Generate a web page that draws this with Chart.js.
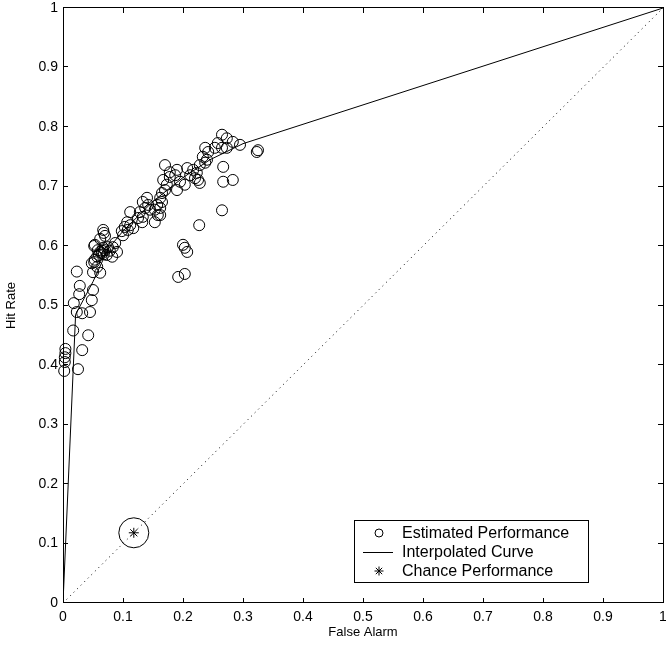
<!DOCTYPE html>
<html>
<head>
<meta charset="utf-8">
<title>ROC - Hit Rate vs False Alarm</title>
<script src="https://cdn.jsdelivr.net/npm/chart.js@4/dist/chart.umd.min.js"></script>
<style>
  body { margin: 0; background: #fff; }
  #wrap { width: 666px; height: 647px; }
</style>
</head>
<body>
<div id="wrap"><canvas id="rocChart" width="666" height="647"></canvas></div>
<script>
// Estimated performance (false alarm, hit rate)
const falseAlarm = [
  0.002, 0.003, 0.003, 0.004, 0.004,
  0.025, 0.032, 0.042, 0.017,
  0.023, 0.032, 0.045, 0.018, 0.048,
  0.027, 0.050, 0.028, 0.023,
  0.050, 0.062, 0.057, 0.052, 0.048, 0.053,
  0.052, 0.068, 0.062, 0.067, 0.070,
  0.053, 0.058, 0.067, 0.075, 0.083, 0.090, 0.065, 0.073, 0.057, 0.082, 0.062, 0.065, 0.068, 0.060, 0.070, 0.087, 0.078,
  0.100, 0.103, 0.107, 0.112, 0.117, 0.108, 0.112, 0.098,
  0.128, 0.133, 0.125, 0.132, 0.153, 0.162,
  0.140, 0.133, 0.142, 0.137, 0.145,
  0.162, 0.165, 0.157, 0.162, 0.153, 0.158,
  0.167, 0.173, 0.170, 0.165, 0.170,
  0.190, 0.178, 0.187, 0.178,
  0.207, 0.217, 0.223, 0.212, 0.220, 0.225, 0.228,
  0.195, 0.203, 0.190,
  0.237, 0.242, 0.233, 0.240, 0.237, 0.228,
  0.265, 0.273, 0.283, 0.295, 0.258, 0.253, 0.265, 0.273,
  0.325, 0.323,
  0.267, 0.267, 0.283, 0.265, 0.227,
  0.200, 0.203, 0.207, 0.192, 0.203
];
const hitRate = [
  0.390, 0.405, 0.413, 0.420, 0.427,
  0.393, 0.425, 0.450, 0.458,
  0.489, 0.487, 0.489, 0.504, 0.509,
  0.519, 0.526, 0.533, 0.557,
  0.556, 0.555, 0.565, 0.573, 0.571, 0.577,
  0.600, 0.622, 0.612, 0.627, 0.617,
  0.602, 0.593, 0.597, 0.598, 0.598, 0.590, 0.588, 0.585, 0.582, 0.582, 0.590, 0.592, 0.586, 0.585, 0.593, 0.605, 0.592,
  0.618, 0.632, 0.640, 0.635, 0.630, 0.627, 0.657, 0.625,
  0.657, 0.649, 0.647, 0.640, 0.640, 0.652,
  0.681, 0.674, 0.669, 0.664, 0.661,
  0.681, 0.674, 0.669, 0.664, 0.661, 0.652,
  0.711, 0.703, 0.694, 0.689, 0.736,
  0.728, 0.724, 0.719, 0.716,
  0.731, 0.728, 0.723, 0.719, 0.714, 0.711, 0.706,
  0.708, 0.703, 0.694,
  0.765, 0.758, 0.750, 0.745, 0.740, 0.736,
  0.787, 0.781, 0.775, 0.770, 0.773, 0.765, 0.765, 0.765,
  0.761, 0.758,
  0.733, 0.708, 0.711, 0.660, 0.635,
  0.602, 0.597, 0.590, 0.548, 0.553
];

// Interpolated curve
const curveFA = [0, 0.021, 0.05, 0.075, 0.1, 0.15, 0.2, 0.245, 0.3, 1];
const curveHR = [0, 0.485, 0.54, 0.595, 0.625, 0.675, 0.715, 0.745, 0.772, 1];

// Chance diagonal and chance performance point
const diagFA = [0, 1];
const diagHR = [0, 1];
const chanceFA = [0.118];
const chanceHR = [0.118];

const tickValues = [0, 0.1, 0.2, 0.3, 0.4, 0.5, 0.6, 0.7, 0.8, 0.9, 1];
const legendLabels = ['Estimated Performance', 'Interpolated Curve', 'Chance Performance'];

const FONT = '"Liberation Sans", Arial, Helvetica, sans-serif';

function toPoints(xs, ys) {
    return xs.map((v, i) => ({ x: v, y: ys[i] }));
}

// Box, inward ticks on all four sides, and the legend box
const framePlugin = {
    id: 'frame',
    afterDraw(chart) {
        const ctx = chart.ctx;
        const a = chart.chartArea;
        const xs = chart.scales.x;
        const ys = chart.scales.y;
        const tl = 5;
        ctx.save();
        ctx.strokeStyle = '#000';
        ctx.lineWidth = 1;
        ctx.strokeRect(a.left + 0.5, a.top - 0.5, a.right - a.left, a.bottom - a.top);

        ctx.beginPath();
        tickValues.forEach(v => {
            const px = Math.round(xs.getPixelForValue(v)) + 0.5;
            ctx.moveTo(px, a.bottom); ctx.lineTo(px, a.bottom - tl);
            ctx.moveTo(px, a.top); ctx.lineTo(px, a.top + tl);
            const py = Math.round(ys.getPixelForValue(v)) - 0.5;
            ctx.moveTo(a.left, py); ctx.lineTo(a.left + tl, py);
            ctx.moveTo(a.right, py); ctx.lineTo(a.right - tl, py);
        });
        ctx.stroke();

        // legend
        const lx = 354, ly = 520, lw = 234, lh = 62;
        ctx.fillStyle = '#fff';
        ctx.fillRect(lx, ly, lw, lh);
        ctx.strokeRect(lx + 0.5, ly + 0.5, lw, lh);
        const rows = [ly + 13, ly + 32, ly + 51];
        const mx = 379;
        // circle
        ctx.beginPath();
        ctx.arc(mx, rows[0], 4, 0, Math.PI * 2);
        ctx.stroke();
        // line
        ctx.beginPath();
        ctx.moveTo(363, rows[1] + 0.5); ctx.lineTo(393, rows[1] + 0.5);
        ctx.stroke();
        // star
        ctx.beginPath();
        const r = 4.5;
        for (let k = 0; k < 4; k++) {
            const ang = k * Math.PI / 4;
            ctx.moveTo(mx - r * Math.cos(ang), rows[2] - r * Math.sin(ang));
            ctx.lineTo(mx + r * Math.cos(ang), rows[2] + r * Math.sin(ang));
        }
        ctx.stroke();

        ctx.fillStyle = '#000';
        ctx.font = '16px ' + FONT;
        ctx.textBaseline = 'middle';
        ctx.textAlign = 'left';
        legendLabels.forEach((t, i) => ctx.fillText(t, 402, rows[i] + 1));
        ctx.restore();
    }
};

const ctx = document.getElementById('rocChart').getContext('2d');

new Chart(ctx, {
    type: 'scatter',
    data: {
        datasets: [
            {
                label: legendLabels[0],
                data: toPoints(falseAlarm, hitRate),
                pointStyle: 'circle',
                pointRadius: 5.5,
                backgroundColor: 'rgba(0,0,0,0)',
                borderColor: '#000',
                borderWidth: 1,
                clip: false
            },
            {
                label: legendLabels[1],
                data: toPoints(curveFA, curveHR),
                showLine: true,
                pointRadius: 0,
                borderColor: '#000',
                borderWidth: 1,
                tension: 0
            },
            {
                label: 'Chance',
                data: toPoints(diagFA, diagHR),
                showLine: true,
                pointRadius: 0,
                borderColor: '#000',
                borderWidth: 1,
                borderDash: [1, 4]
            },
            {
                label: legendLabels[2],
                data: toPoints(chanceFA, chanceHR),
                pointStyle: 'star',
                pointRadius: 5,
                borderColor: '#000',
                backgroundColor: 'rgba(0,0,0,0)',
                borderWidth: 1
            },
            {
                label: 'Chance ring',
                data: toPoints(chanceFA, chanceHR),
                pointStyle: 'circle',
                pointRadius: 15,
                borderColor: '#000',
                backgroundColor: 'rgba(0,0,0,0)',
                borderWidth: 1
            }
        ]
    },
    options: {
        responsive: false,
        animation: false,
        layout: {
            autoPadding: false,
            padding: { top: 8, right: 3, left: 0, bottom: 0 }
        },
        plugins: {
            legend: { display: false },
            tooltip: { enabled: false }
        },
        scales: {
            x: {
                type: 'linear',
                min: 0,
                max: 1,
                afterBuildTicks: scale => {
                    scale.ticks = tickValues.map(v => ({ value: v }));
                },
                afterFit: scale => {
                    scale.height = 44;
                    scale.paddingLeft = 0;
                    scale.paddingRight = 0;
                },
                grid: { display: false, drawTicks: false },
                border: { display: false },
                ticks: {
                    color: '#000',
                    padding: 6,
                    maxRotation: 0,
                    autoSkip: false,
                    font: { family: FONT, size: 14 },
                    callback: v => String(+v.toFixed(1))
                },
                title: {
                    display: true,
                    text: 'False Alarm',
                    color: '#000',
                    font: { family: FONT, size: 13 },
                    padding: { top: 0, bottom: 7 }
                }
            },
            y: {
                type: 'linear',
                min: 0,
                max: 1,
                afterBuildTicks: scale => {
                    scale.ticks = tickValues.map(v => ({ value: v }));
                },
                afterFit: scale => {
                    scale.width = 63;
                    scale.paddingTop = 0;
                    scale.paddingBottom = 0;
                },
                grid: { display: false, drawTicks: false },
                border: { display: false },
                ticks: {
                    color: '#000',
                    padding: 5,
                    autoSkip: false,
                    font: { family: FONT, size: 14 },
                    callback: v => String(+v.toFixed(1))
                },
                title: {
                    display: true,
                    text: 'Hit Rate',
                    color: '#000',
                    font: { family: FONT, size: 13 },
                    padding: { top: 4, bottom: 0 }
                }
            }
        }
    },
    plugins: [framePlugin]
});
</script>
</body>
</html>
